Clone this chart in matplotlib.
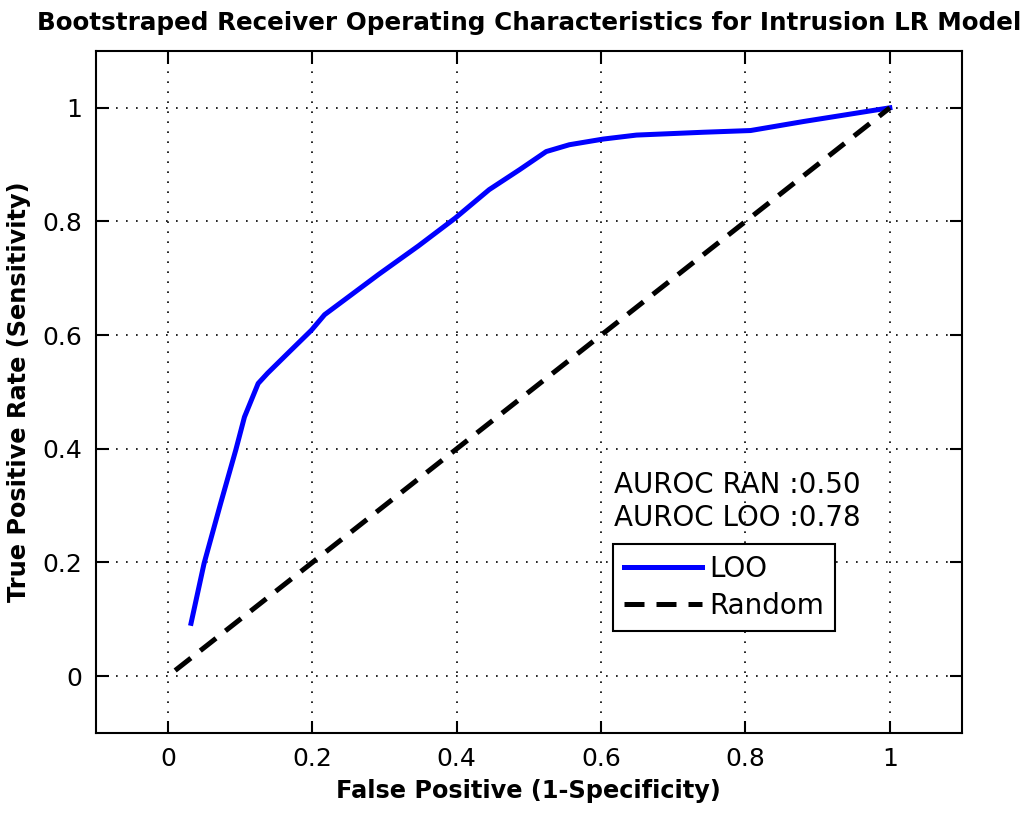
import numpy as np
import matplotlib.pyplot as plt

# LOO bootstrapped ROC curve
fpr_loo = [0.032, 0.050, 0.073, 0.094, 0.106, 0.125, 0.138, 0.166, 0.199, 0.217,
           0.254, 0.292, 0.347, 0.398, 0.445, 0.487, 0.524, 0.556, 0.603,
           0.649, 0.742, 0.807, 0.881, 1.0]
tpr_loo = [0.093, 0.198, 0.304, 0.398, 0.456, 0.515, 0.533, 0.568, 0.609, 0.636,
           0.671, 0.707, 0.757, 0.806, 0.856, 0.891, 0.923, 0.935, 0.945,
           0.952, 0.957, 0.960, 0.976, 1.0]
fpr_ran = [0.01, 1.0]
tpr_ran = [0.01, 1.0]
auc_ran = 0.50
auc_loo = 0.78

plt.rcParams['font.family'] = ['DejaVu Sans']

fig = plt.figure(figsize=(10.24, 8.26), dpi=100)
ax = fig.add_axes([0.0935, 0.1126, 0.846, 0.8257])

ax.plot(fpr_loo, tpr_loo, color='#0000ff', lw=3.6, label='LOO')
ax.plot(fpr_ran, tpr_ran, color='black', lw=3.6, ls=(0, (4, 2.4)), label='Random')

ax.set_xlim(-0.1, 1.1)
ax.set_ylim(-0.1, 1.1)
ticks = [0, 0.2, 0.4, 0.6, 0.8, 1]
tick_labels = ['0', '0.2', '0.4', '0.6', '0.8', '1']
ax.set_xticks(ticks)
ax.set_yticks(ticks)
ax.set_xticklabels(tick_labels)
ax.set_yticklabels(tick_labels)
ax.tick_params(direction='in', length=9, width=1.5, top=True, right=True,
               labelsize=18, pad=10)
for s in ax.spines.values():
    s.set_linewidth(1.5)
ax.grid(True, color='black', ls=(0, (1, 5)), lw=1.2)

ax.set_xlabel('False Positive (1-Specificity)', fontsize=17.3, fontweight='bold', labelpad=6)
ax.set_ylabel('True Positive Rate (Sensitivity)', fontsize=17.3, fontweight='bold', labelpad=8)
ax.set_title('Bootstraped Receiver Operating Characteristics for Intrusion LR Model',
             fontsize=17.7, fontweight='bold', pad=15)

ax.text(0.618, 0.336, 'AUROC RAN :%.2f' % auc_ran, fontsize=20, va='center')
ax.text(0.618, 0.278, 'AUROC LOO :%.2f' % auc_loo, fontsize=20, va='center')

leg = ax.legend(loc='upper left', bbox_to_anchor=(0.597, 0.277), fontsize=20,
                frameon=True, fancybox=False, edgecolor='black', framealpha=1,
                handlelength=2.8, handletextpad=0.25, borderpad=0.4, labelspacing=0.3,
                borderaxespad=0)
leg.get_frame().set_linewidth(1.5)

fig.savefig('out.png', dpi=100)
